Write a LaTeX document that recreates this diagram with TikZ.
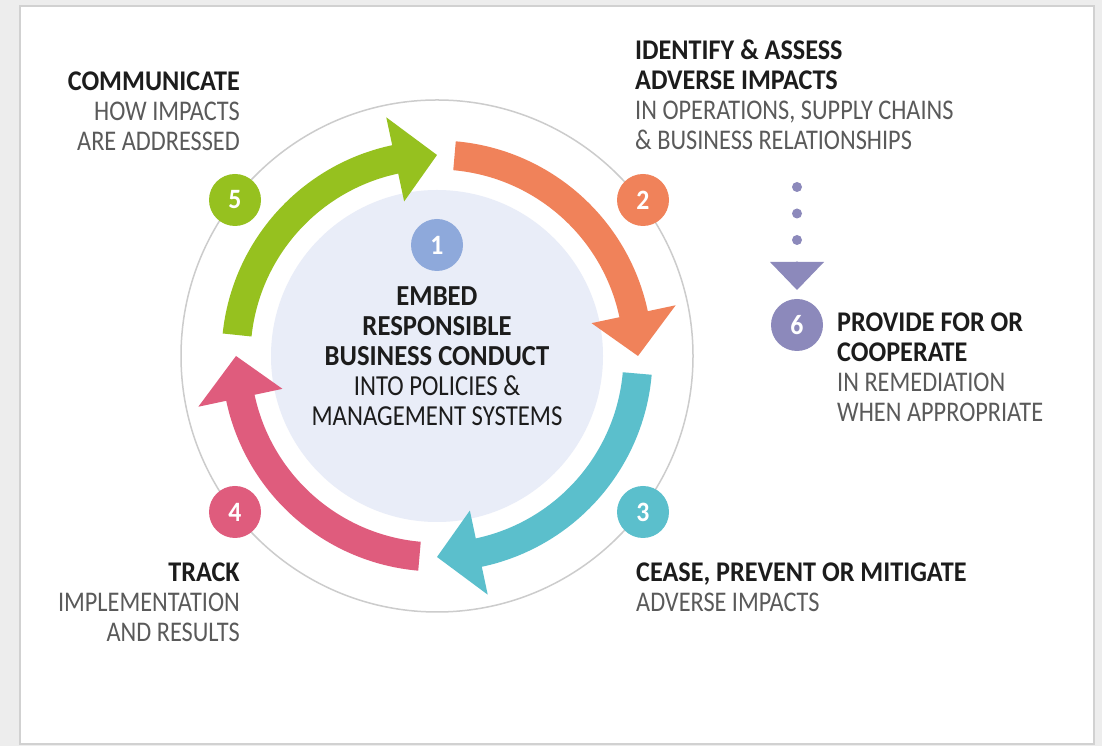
\documentclass[tikz,border=0pt]{standalone}
\usepackage{fontspec}
\setmainfont{Carlito}[UprightFeatures = {FakeStretch = 0.853}, BoldFeatures = {FakeStretch = 0.919}]
\usepackage{tikz,tkz-graph}
\definecolor{stepGreen}{HTML}{96C11F}
\definecolor{stepOrange}{HTML}{F0825A}
\definecolor{stepTeal}{HTML}{5BBFCC}
\definecolor{stepPink}{HTML}{DF5C7D}
\definecolor{stepBlue}{HTML}{8EA9DB}
\definecolor{stepPurple}{HTML}{8C89BB}
\definecolor{coreFill}{HTML}{E9EDF8}
\definecolor{textDark}{HTML}{1C1C1C}
\definecolor{textGray}{HTML}{5A5A5A}
\tikzstyle{badge}=[shape = circle, minimum size = 52pt, inner sep = 0pt, text = white, font = \bfseries\fontsize{28}{28}\selectfont]
\tikzstyle{labelText}=[inner sep = 0pt, text = textGray, font = \fontsize{28.5}{30}\selectfont]
\newcommand{\headLine}[1]{\textcolor{textDark}{\bfseries #1}}
\newcommand{\CycleArrow}[3]{%
  \pgfmathsetmacro{\headAngle}{#3+12}
  \fill[#1, shift = {(C)}] (#2:215.5) arc[start angle = #2, end angle = \headAngle, radius = 215.5]
    -- (\headAngle:244) -- (#3:201) -- (\headAngle:158) -- (\headAngle:186.5)
    arc[start angle = \headAngle, end angle = #2, radius = 186.5] -- cycle;}

\begin{document}
\begin{tikzpicture}[x = 1pt, y = 1pt]
\tikzstyle{VertexStyle} = []
\tikzstyle{EdgeStyle} = []
\useasboundingbox (0,0) rectangle (1102,746);
\fill[black!7] (0,0) rectangle (1102,746);
\filldraw[fill = white, draw = black!18, line width = 1.5pt] (20,2) rectangle (1094,740);
\coordinate (C) at (437,390);
\draw[black!20, line width = 1.5pt] (C) circle[radius = 256];
\fill[coreFill] (C) circle[radius = 166];
\CycleArrow{stepGreen}{174}{90}
\CycleArrow{stepOrange}{85}{0}
\CycleArrow{stepTeal}{-5}{-90}
\CycleArrow{stepPink}{-95}{-180}
\Vertex[style = {badge, fill = stepBlue}, x = 437, y = 501, L = {1}]{b1}
\Vertex[style = {badge, fill = stepOrange}, x = 643, y = 546, L = {2}]{b2}
\Vertex[style = {badge, fill = stepTeal}, x = 643, y = 234, L = {3}]{b3}
\Vertex[style = {badge, fill = stepPink}, x = 235, y = 234, L = {4}]{b4}
\Vertex[style = {badge, fill = stepGreen}, x = 235, y = 546, L = {5}]{b5}
\Vertex[style = {badge, fill = stepPurple}, x = 797, y = 421, L = {6}]{b6}
\coordinate (dotTop) at (797,559);
\coordinate (dotEnd) at (797,478);
\draw[stepPurple, line width = 10pt, line cap = round, dash pattern = on 0pt off 26.5pt] (dotTop) -- (dotEnd);
\fill[stepPurple] (770,484) -- (824,484) -- (797,456) -- cycle;
\node[labelText, anchor = north, align = center, text = textDark, font = \fontsize{29}{30}\selectfont] (embed) at (437,459) {\textbf{EMBED}\\ \textbf{RESPONSIBLE}\\ \textbf{BUSINESS CONDUCT}\\ INTO POLICIES \&\\ MANAGEMENT SYSTEMS};
\node[labelText, anchor = north west, align = left] (identify) at (635,706) {\headLine{IDENTIFY \& ASSESS}\\ \headLine{ADVERSE IMPACTS}\\ IN OPERATIONS, SUPPLY CHAINS\\ \& BUSINESS RELATIONSHIPS};
\node[labelText, anchor = north west, align = left] (provide) at (837,433) {\headLine{PROVIDE FOR OR}\\ \headLine{COOPERATE}\\ IN REMEDIATION\\ WHEN APPROPRIATE};
\node[labelText, anchor = north west, align = left] (cease) at (636,183) {\headLine{CEASE, PREVENT OR MITIGATE}\\ ADVERSE IMPACTS};
\node[labelText, anchor = north east, align = right] (track) at (240,183) {\headLine{TRACK}\\ IMPLEMENTATION\\ AND RESULTS};
\node[labelText, anchor = north east, align = right] (communicate) at (240,674) {\headLine{COMMUNICATE}\\ HOW IMPACTS\\ ARE ADDRESSED};
\end{tikzpicture}
\end{document}
